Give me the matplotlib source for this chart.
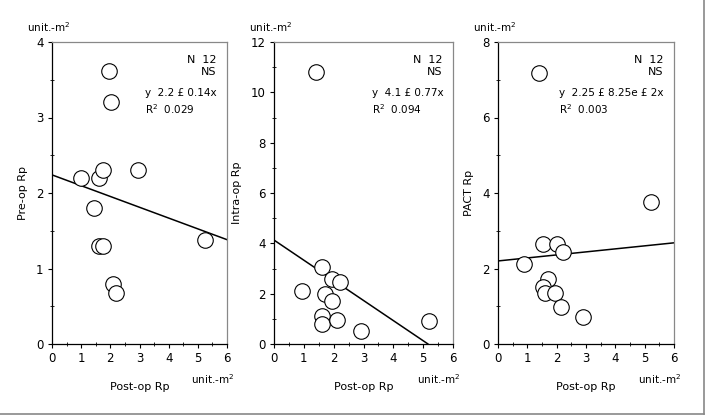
import matplotlib
matplotlib.use("Agg")
import matplotlib.pyplot as plt
import numpy as np
from matplotlib.ticker import MultipleLocator
from matplotlib.lines import Line2D

plt.rcParams['font.family'] = ['DejaVu Sans']

# Data
post_op_1 = [1.0, 1.6, 1.75, 2.95, 1.95, 2.02, 1.45, 1.6, 1.75, 2.1, 2.2, 5.25]
pre_op = [2.2, 2.2, 2.3, 2.3, 3.62, 3.21, 1.8, 1.3, 1.3, 0.8, 0.67, 1.38]

post_op_2 = [1.4, 0.95, 1.6, 1.95, 2.2, 1.7, 1.95, 1.6, 1.6, 2.1, 2.9, 5.2]
intra_op = [10.8, 2.1, 3.05, 2.6, 2.45, 2.0, 1.7, 1.1, 0.8, 0.95, 0.5, 0.92]

post_op_3 = [1.4, 0.9, 1.55, 2.0, 2.2, 1.7, 1.55, 1.6, 1.95, 2.15, 2.9, 5.2]
pact = [7.18, 2.12, 2.65, 2.65, 2.45, 1.72, 1.5, 1.35, 1.35, 0.97, 0.72, 3.77]

fit_intercepts = [2.24, 4.13, 2.2]
fit_slopes = [-0.143, -0.80, 0.08]

y_labels = ["Pre-op Rp", "Intra-op Rp", "PACT Rp"]
y_limits = [4, 12, 8]
y_major = [1, 2, 2]
y_minor = [0.5, 1, 1]
eq_texts = ["y  2.2 \u00a3 0.14x", "y  4.1 \u00a3 0.77x", "y  2.25 \u00a3 8.25e \u00a3 2x"]
r2_texts = ["R$^2$  0.029", "R$^2$  0.094", "R$^2$  0.003"]
eq_x = [0.53, 0.547, 0.347]

xs = [post_op_1, post_op_2, post_op_3]
ys = [pre_op, intra_op, pact]

W, H = 709, 418
fig = plt.figure(figsize=(W / 100, H / 100), dpi=100)

lefts_px = [52, 274, 498]
rights_px = [227, 453, 674]
top_px, bottom_px = 42, 344

fs = 8
for i in range(3):
    l, r = lefts_px[i], rights_px[i]
    ax = fig.add_axes([l / W, 1 - bottom_px / H, (r - l) / W, (bottom_px - top_px) / H])
    ax.scatter(xs[i], ys[i], s=125, facecolors='white', edgecolors='black', linewidths=0.8, zorder=3)
    xx = np.linspace(0, 6, 200)
    yy = fit_intercepts[i] + fit_slopes[i] * xx
    mask = yy >= 0
    ax.plot(xx[mask], yy[mask], color='black', lw=1.1, zorder=2)
    ax.set_xlim(0, 6)
    ax.set_ylim(0, y_limits[i])
    ax.xaxis.set_major_locator(MultipleLocator(1))
    ax.xaxis.set_minor_locator(MultipleLocator(0.5))
    ax.yaxis.set_major_locator(MultipleLocator(y_major[i]))
    ax.yaxis.set_minor_locator(MultipleLocator(y_minor[i]))
    ax.tick_params(which='major', direction='out', length=3, width=0.8, labelsize=8.5, pad=3)
    ax.tick_params(which='minor', direction='inout', length=2.5, width=0.6)
    for s in ['left', 'bottom']:
        ax.spines[s].set_color('black')
        ax.spines[s].set_linewidth(0.9)
    for s in ['top', 'right']:
        ax.spines[s].set_color('#888888')
        ax.spines[s].set_linewidth(0.9)
    ax.set_ylabel(y_labels[i], fontsize=fs, labelpad=6)
    ax.set_xlabel("Post-op Rp", fontsize=fs, labelpad=12)
    ax.text(0.94, 0.94, "N  12", transform=ax.transAxes, ha='right', va='center', fontsize=fs)
    ax.text(0.94, 0.90, "NS", transform=ax.transAxes, ha='right', va='center', fontsize=fs)
    ax.text(eq_x[i], 0.831, eq_texts[i], transform=ax.transAxes, ha='left', va='center', fontsize=7.5)
    ax.text(eq_x[i], 0.778, r2_texts[i], transform=ax.transAxes, ha='left', va='center', fontsize=7.5)
    # unit labels
    fig.text((l - 25) / W, 1 - 27 / H, "unit.-m$^2$", ha='left', va='center', fontsize=7.5)
    fig.text((r + 7) / W, 1 - 379 / H, "unit.-m$^2$", ha='right', va='center', fontsize=7.5)

# figure border (bottom and right)
fig.add_artist(Line2D([0, 704 / W], [1 - 414 / H, 1 - 414 / H], color='#888888', lw=1.2, transform=fig.transFigure))
fig.add_artist(Line2D([704 / W, 704 / W], [1 - 414 / H, 1.0], color='#888888', lw=1.2, transform=fig.transFigure))

fig.savefig("out.png", dpi=100)
